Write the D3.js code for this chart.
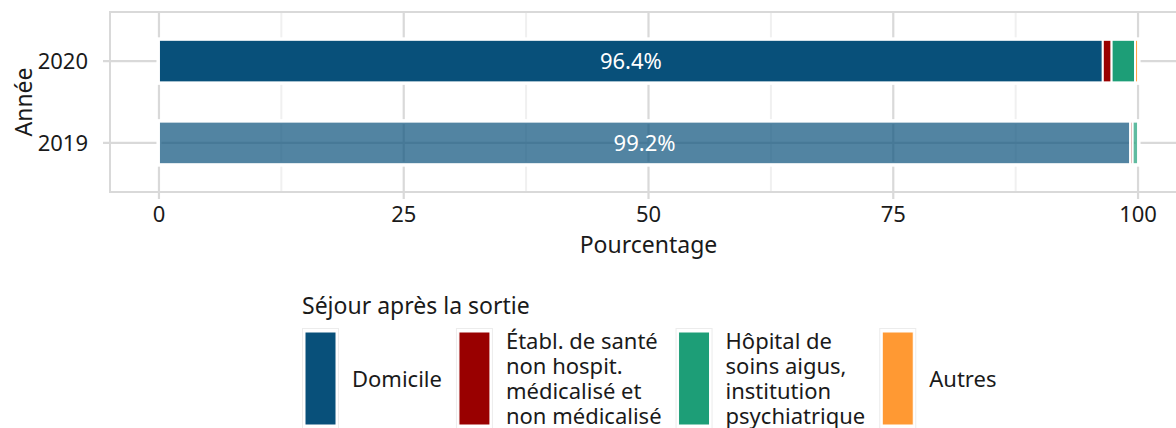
<!DOCTYPE html>
<html>
<head>
<meta charset="utf-8">
<script src="https://cdn.jsdelivr.net/npm/d3@7"></script>
<style>
  body { margin: 0; background: #fff; }
  text { font-family: "Noto Sans", sans-serif; }
</style>
</head>
<body>
<div id="viz"></div>
<script>
// data
var years = ["2020", "2019"];
var categories = ["Domicile", "Établ. de santé non hospit. médicalisé et non médicalisé",
    "Hôpital de soins aigus, institution psychiatrique", "Autres"];
var legendLines = [
    ["Domicile"],
    ["Établ. de santé", "non hospit.", "médicalisé et", "non médicalisé"],
    ["Hôpital de", "soins aigus,", "institution", "psychiatrique"],
    ["Autres"]
];
var values2020 = [96.4, 0.9, 2.4, 0.3];
var values2019 = [99.2, 0.25, 0.55, 0];
var xTicks = [0, 25, 50, 75, 100];
var xMinor = [12.5, 37.5, 62.5, 87.5];
var colours = ["#08507a", "#990000", "#1d9e77", "#ff9933"];

var width = 1176, height = 428;
var panel = { left: 110, right: 1187, top: 12, bottom: 192 };
var grey = "#d9d9d9";

var svg = d3.select("#viz").append("svg")
    .attr("width", width).attr("height", height);

var x = d3.scaleLinear().domain([-5, 105]).range([panel.left, panel.right]);
var y = d3.scalePoint().domain(years).range([panel.top, panel.bottom]).padding(0.6);
var barH = y.step() * 0.52;

// stacked rows
var rows = [values2020, values2019].map(function(vals, i) {
    var acc = 0;
    return vals.map(function(v, j) {
        var seg = { year: years[i], cat: categories[j], i: j, x0: acc, x1: acc + v, v: v };
        acc += v;
        return seg;
    });
});

// grid
var g = svg.append("g");
g.selectAll(".minor").data(xMinor).enter().append("line")
    .attr("x1", d => x(d)).attr("x2", d => x(d))
    .attr("y1", panel.top).attr("y2", panel.bottom)
    .attr("stroke", "#f0f0f0").attr("stroke-width", 2);
g.selectAll(".vmajor").data(xTicks).enter().append("line")
    .attr("x1", d => x(d)).attr("x2", d => x(d))
    .attr("y1", panel.top).attr("y2", panel.bottom + 7)
    .attr("stroke", grey).attr("stroke-width", 2.2);
g.selectAll(".hmajor").data(years).enter().append("line")
    .attr("x1", panel.left - 7).attr("x2", panel.right)
    .attr("y1", d => y(d)).attr("y2", d => y(d))
    .attr("stroke", grey).attr("stroke-width", 2.2);

// white halo round bars
rows.forEach(function(row) {
    var last = row[row.length - 1];
    g.append("rect")
        .attr("x", x(0)).attr("width", x(last.x1) - x(0))
        .attr("y", y(row[0].year) - barH / 2).attr("height", barH)
        .attr("fill", "none").attr("stroke", "#fff").attr("stroke-width", 5);
});

// bars
rows.forEach(function(row, r) {
    g.selectAll(".seg" + r).data(row.filter(d => d.v > 0)).enter().append("rect")
        .attr("x", d => x(d.x0))
        .attr("width", d => x(d.x1) - x(d.x0))
        .attr("y", d => y(d.year) - barH / 2)
        .attr("height", barH)
        .attr("fill", d => colours[d.i])
        .attr("fill-opacity", r == 0 ? 1 : 0.7)
        .attr("stroke", "#fff").attr("stroke-width", 2);
    var first = row[0];
    g.append("text")
        .attr("x", x((first.x0 + first.x1) / 2))
        .attr("y", y(first.year))
        .attr("dy", "0.36em")
        .attr("text-anchor", "middle")
        .attr("fill", "#fff")
        .attr("font-size", 22)
        .text(d3.format(".1f")(first.v) + "%");
});

// panel border
g.append("rect")
    .attr("x", panel.left).attr("y", panel.top)
    .attr("width", panel.right - panel.left).attr("height", panel.bottom - panel.top)
    .attr("fill", "none").attr("stroke", grey).attr("stroke-width", 2);

// axes labels
g.selectAll(".ylab").data(years).enter().append("text")
    .attr("x", 88).attr("y", d => y(d)).attr("dy", "0.36em")
    .attr("text-anchor", "end").attr("font-size", 22).attr("fill", "#1a1a1a")
    .text(d => d);
g.selectAll(".xlab").data(xTicks).enter().append("text")
    .attr("x", d => x(d)).attr("y", 222)
    .attr("text-anchor", "middle").attr("font-size", 22).attr("fill", "#1a1a1a")
    .text(d => d);
g.append("text")
    .attr("x", (panel.left + panel.right) / 2).attr("y", 253)
    .attr("text-anchor", "middle").attr("font-size", 23).attr("fill", "#1a1a1a")
    .text("Pourcentage");
g.append("text")
    .attr("transform", "translate(32," + ((panel.top + panel.bottom) / 2) + ") rotate(-90)")
    .attr("text-anchor", "middle").attr("font-size", 23).attr("fill", "#1a1a1a")
    .text("Année");

// legend
var lg = svg.append("g");
lg.append("text")
    .attr("x", 302).attr("y", 314)
    .attr("font-size", 23).attr("fill", "#1a1a1a")
    .text("Séjour après la sortie");

var keyTop = 328.5, keyH = 101, keyW = 37;
var fillTop = 332, fillH = 93;
var keyMid = fillTop + fillH / 2;
var lineH = 25;
var xPos = 302;
categories.forEach(function(c, i) {
    var item = lg.append("g");
    item.append("rect")
        .attr("x", xPos + 0.5).attr("y", keyTop).attr("width", keyW - 1).attr("height", keyH)
        .attr("fill", "#fff").attr("stroke", "#ececec").attr("stroke-width", 1);
    item.append("rect")
        .attr("x", xPos + 3).attr("y", fillTop).attr("width", keyW - 6).attr("height", fillH)
        .attr("fill", colours[i]).attr("stroke", "#fff").attr("stroke-width", 1);
    var lines = legendLines[i];
    var t = item.append("text")
        .attr("font-size", 22).attr("fill", "#1a1a1a");
    var maxW = 0;
    lines.forEach(function(l, k) {
        var ts = t.append("tspan")
            .attr("x", xPos + 50)
            .attr("y", keyMid + (k - (lines.length - 1) / 2) * lineH + 8)
            .text(l);
        maxW = Math.max(maxW, ts.node().getComputedTextLength());
    });
    xPos = xPos + 50 + maxW + 14;
});
</script>
</body>
</html>
